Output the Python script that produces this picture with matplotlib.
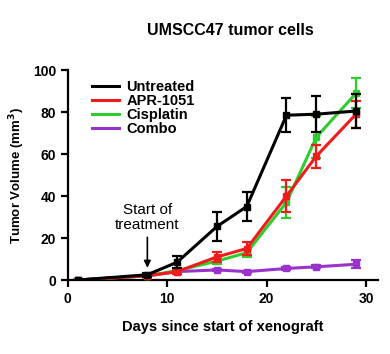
import numpy as np
import matplotlib.pyplot as plt
from matplotlib.lines import Line2D

plt.rcParams['font.family'] = ['Liberation Sans', 'DejaVu Sans']
plt.rcParams['font.weight'] = 'bold'

days = [1, 8, 11, 15, 18, 22, 25, 29]
untreated = [0, 2.5, 8.5, 25.5, 35, 78.5, 79, 80.5]
untreated_err = [0, 1, 3, 7, 7, 8, 8.5, 8]
apr1051 = [0, 2, 4, 11, 15, 40, 59, 79]
apr1051_err = [0, 0.5, 1, 2.5, 3, 7.5, 5.5, 6.5]
cisplatin = [0, 2, 4.5, 9, 13, 37, 68, 89]
cisplatin_err = [0, 0.5, 1, 1.5, 2, 7.5, 10, 7]
combo = [0, 2, 4, 4.8, 4, 5.5, 6.3, 7.5]
combo_err = [0, 0.5, 0.5, 0.5, 0.5, 0.7, 0.7, 2]

series = [
    ("Untreated", untreated, untreated_err, "black", 5),
    ("APR-1051", apr1051, apr1051_err, "#f01c1c", 4),
    ("Cisplatin", cisplatin, cisplatin_err, "#2ecc2e", 3),
    ("Combo", combo, combo_err, "#9933cc", 2),
]

fig = plt.figure(figsize=(3.9, 3.54), dpi=100)
ax = fig.add_axes([0.174, 0.209, 0.795, 0.593])

handles = []
for name, y, err, col, z in series:
    ax.errorbar(days, y, yerr=err, color=col, lw=2.2, marker='s', ms=4,
                capsize=3.5, capthick=1.6, elinewidth=1.6, zorder=z)
    handles.append(Line2D([], [], color=col, lw=2.2, label=name))

ax.set_xlim(0, 31.2)
ax.set_ylim(0, 100)
ax.set_xticks([0, 10, 20, 30])
ax.set_yticks([0, 20, 40, 60, 80, 100])
for s in ['top', 'right']:
    ax.spines[s].set_visible(False)
for s in ['left', 'bottom']:
    ax.spines[s].set_linewidth(1.6)
ax.tick_params(width=1.6, length=5, labelsize=10)
for lab in ax.get_xticklabels() + ax.get_yticklabels():
    lab.set_fontweight('bold')

ax.set_xlabel("Days since start of xenograft", fontsize=10.5,
              fontweight='bold', labelpad=10)
ax.set_ylabel("Tumor Volume (mm$^3$)", fontsize=9.5, fontweight='bold')
fig.text(0.59, 0.915, "UMSCC47 tumor cells", ha='center', va='center',
         fontsize=11.5, fontweight='bold')

ax.annotate("Start of\ntreatment", xy=(8, 4.5), xytext=(8, 23),
            ha='center', va='bottom', fontsize=11, fontweight='normal',
            linespacing=1.05,
            arrowprops=dict(arrowstyle='-|>', color='black', lw=1.2,
                            mutation_scale=10))

leg = ax.legend(handles=handles, loc='upper left',
                bbox_to_anchor=(0.045, 1.0), frameon=False,
                fontsize=10.5, handlelength=1.85, handletextpad=0.5,
                labelspacing=0.0, borderaxespad=0.3)
for t in leg.get_texts():
    t.set_fontweight('bold')

fig.savefig("out.png", dpi=100)
